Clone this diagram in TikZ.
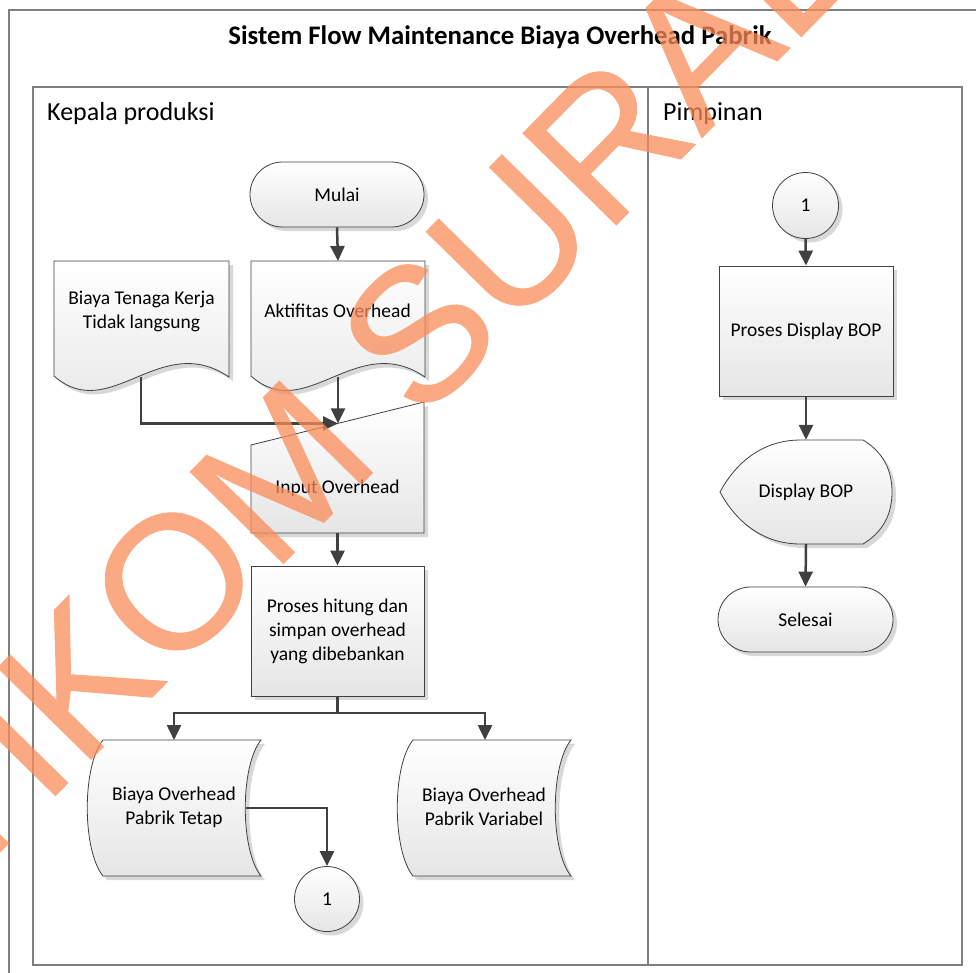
\documentclass[tikz,border=0pt]{standalone}
\usepackage{fontspec}
\setmainfont{Carlito}
\newfontfamily\wmfont[FakeBold=0.5]{Liberation Sans}
\usetikzlibrary{arrows.meta,shadows}

\definecolor{lineclr}{HTML}{404040}
\definecolor{laneclr}{HTML}{7F7F7F}
\definecolor{wmclr}{RGB}{250,140,90}

\tikzset{
  boxfont/.style={font=\fontsize{19.5}{24}\selectfont},
  lanelbl/.style={font=\fontsize{26}{30}\selectfont, anchor=base west, inner sep=0pt},
  lane/.style={draw=laneclr, line width=1.2pt},
  shp/.style={draw=lineclr, line width=0.8pt, top color=white, bottom color=black!10,
    drop shadow={shadow xshift=4pt, shadow yshift=-4pt, fill=black!30, opacity=0.5}},
  term/.style={shp, rounded corners=32.5pt, minimum height=65pt, boxfont},
  conn/.style={shp, circle, minimum size=65pt, inner sep=0pt, boxfont},
  procbox/.style={shp, minimum width=174pt, minimum height=130pt, boxfont, align=center},
  lbl/.style={boxfont, align=center, inner sep=0pt},
  arr/.style={draw=lineclr, line width=2.5pt, -{Triangle[length=15pt,width=14pt]}},
  wm/.style={font=\wmfont\fontsize{190}{190}\selectfont, text=wmclr,
    anchor=base west, inner sep=0pt, rotate=45.5}
}

\begin{document}
\begin{tikzpicture}[x=1pt,y=-1pt]
\useasboundingbox (0,0) rectangle (976,972);

% outer frame and swimlanes
\draw[lane] (9,995) -- (9,10) -- (995,10);
\draw[lane] (33,87) rectangle (962,965);
\draw[lane] (648,87) -- (648,965);

\node[font=\fontsize{26.8}{30}\selectfont\bfseries, anchor=base, inner sep=0pt] (title) at (500,44)
  {Sistem Flow Maintenance Biaya Overhead Pabrik};
\node[lanelbl] (kp) at (47,120) {Kepala produksi};
\node[lanelbl] (pp) at (663,120) {Pimpinan};

% ---- Kepala produksi ----
\node[term, minimum width=174pt] (mulai) at (337,194.5) {Mulai};

% documents
\path[shp] (54,261) -- (229,261) -- (229,377) .. controls (160,330) and (110,425) .. (54,376) -- cycle;
\node[lbl] (btk) at (141.5,311) {Biaya Tenaga Kerja\\Tidak langsung};
\coordinate (btkout) at (141,377);

\path[shp] (251,261) -- (425,261) -- (425,377) .. controls (356,330) and (306,425) .. (251,376) -- cycle;
\node[lbl] (akt) at (337.5,311) {Aktifitas Overhead};
\coordinate (akttop) at (338,261);
\coordinate (aktout) at (338,377);

% manual input
\path[shp] (251,445) -- (424,402) -- (424,533) -- (251,533) -- cycle;
\node[lbl] (inp) at (337.5,488) {Input Overhead};
\coordinate (inpin) at (338,423.4);
\coordinate (inpout) at (337.5,533);

% process
\node[procbox, minimum width=173pt] (proc) at (337.5,631) {Proses hitung dan\\simpan overhead\\yang dibebankan};
\coordinate (split) at (337.5,713);

% stored data
\path[shp] (103,740) -- (261,740) .. controls (240,766) and (240,850) .. (261,876)
  -- (103,876) .. controls (82,850) and (82,766) .. (103,740) -- cycle;
\node[lbl] (tetap) at (174,807) {Biaya Overhead\\Pabrik Tetap};
\coordinate (tetapin) at (174,740);
\coordinate (tetapout) at (246,808);

\path[shp] (413,740) -- (571,740) .. controls (550,766) and (550,850) .. (571,876)
  -- (413,876) .. controls (392,850) and (392,766) .. (413,740) -- cycle;
\node[lbl] (var) at (484,807) {Biaya Overhead\\Pabrik Variabel};
\coordinate (varin) at (485,740);

\node[conn] (c1) at (327,899) {1};

% connectors
\draw[arr] (mulai.south) -- (akttop);
\draw[arr] (btkout) |- (inpin);
\draw[arr] (aktout) -- (inpin);
\draw[arr] (inpout) -- (proc.north);
\draw[arr] (proc.south) -- (split) -| (tetapin);
\draw[arr] (split) -| (varin);
\draw[arr] (tetapout) -| (c1.north);

% ---- Pimpinan ----
\node[conn, minimum size=66pt] (c2) at (805.5,205.5) {1};
\node[procbox] (pdb) at (806,331) {Proses Display BOP};
\path[shp] (720,492) .. controls (740,455) and (770,440) .. (800,440) -- (863,440)
  .. controls (883,452) and (892,470) .. (892,492)
  .. controls (892,514) and (883,532) .. (863,544) -- (800,544)
  .. controls (770,544) and (740,529) .. (720,492) -- cycle;
\node[lbl, minimum width=172pt, minimum height=104pt] (disp) at (806,492) {Display BOP};
\node[term, minimum width=175pt] (sel) at (805.5,619.5) {Selesai};

\draw[arr] (c2.south) -- (pdb.north);
\draw[arr] (pdb.south) -- (disp.north);
\draw[arr] (disp.south) -- (sel.north);

% watermark, drawn as one translucent group
\begin{scope}[transparency group, opacity=0.75]
  \node[wm] (wmark) at (-127.2,981.4) {STIKOM SURABAYA};
\end{scope}
\end{tikzpicture}
\end{document}
